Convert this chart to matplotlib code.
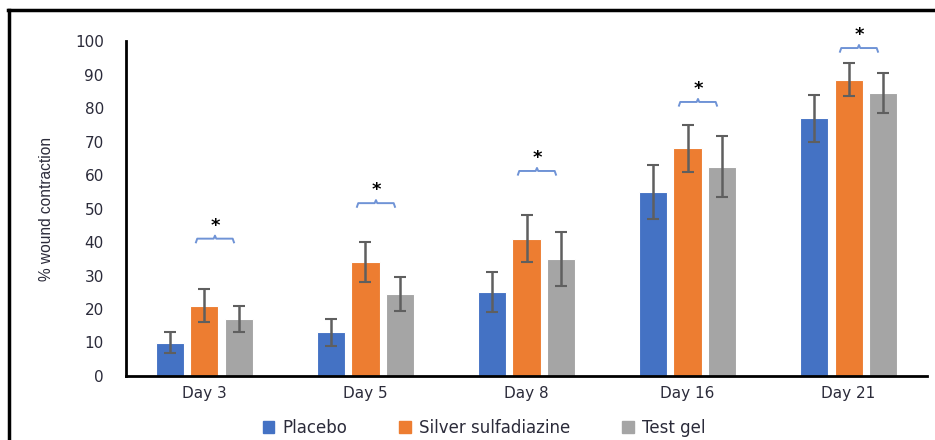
import matplotlib
matplotlib.use("Agg")
import matplotlib.pyplot as plt
import numpy as np
from matplotlib.lines import Line2D

days = ["Day 3", "Day 5", "Day 8", "Day 16", "Day 21"]
series_names = ["Placebo", "Silver sulfadiazine", "Test gel"]
placebo = [10, 13, 25, 55, 77]
placebo_err = [3, 4, 6, 8, 7]
ssd = [21, 34, 41, 68, 88.5]
ssd_err = [5, 6, 7, 7, 5]
testgel = [17, 24.5, 35, 62.5, 84.5]
testgel_err = [4, 5, 8, 9, 6]
bracket_levels = [41, 51.6, 61.2, 81.8, 97.9]
star_label = "*"

colors = ["#4472C4", "#ED7D31", "#A5A5A5"]

fig = plt.figure(figsize=(9.35, 4.4), dpi=100)
ax = fig.add_axes([126/935, 1-376/440, (927-126)/935, (376-41)/440])

x = np.arange(len(days))
off = 0.217
w = 0.174
vals = [placebo, ssd, testgel]
errs = [placebo_err, ssd_err, testgel_err]
for i, (v, e, c, n) in enumerate(zip(vals, errs, colors, series_names)):
    ax.bar(x + (i-1)*off, v, width=w, color=c, edgecolor="white", linewidth=0.8,
           label=n, zorder=2)
    ax.errorbar(x + (i-1)*off, v, yerr=e, fmt="none", ecolor="#5F5F5F",
                elinewidth=1.8, capsize=4, capthick=1.5, zorder=3)

# brackets and stars
for xi, lev in zip(x, bracket_levels):
    x0 = xi - 0.053
    x1 = xi + 0.183
    xm = (x0 + x1) / 2
    px = [x0, x0 + 0.008, xm - 0.008, xm, xm + 0.008, x1 - 0.008, x1]
    py = [lev - 1.1, lev, lev, lev + 0.9, lev, lev, lev - 1.1]
    ax.plot(px, py, color="#6F93D6", lw=1.4, clip_on=False, zorder=4)
    ax.text(xm, lev + 3.8, star_label, ha="center", va="center", fontsize=13,
            fontweight="bold", color="black", clip_on=False)

ax.set_xlim(-0.4875, 4.4875)
ax.set_ylim(0, 100)
ax.set_yticks(np.arange(0, 101, 10))
ax.set_xticks(x)
ax.set_xticklabels(days)
ax.tick_params(axis="both", length=0, labelsize=11, labelcolor="#2b2b3a")
ax.tick_params(axis="y", pad=16)
ax.tick_params(axis="x", pad=7)
for s in ["top", "right"]:
    ax.spines[s].set_visible(False)
ax.spines["left"].set_linewidth(2)
ax.spines["bottom"].set_linewidth(2)
ax.set_ylabel("% wound contraction", fontsize=11.2,
              family=["Liberation Sans", "DejaVu Sans"], color="#2b2b3a",
              labelpad=15)

handles = [plt.Rectangle((0, 0), 1, 1, color=c) for c in colors]
fig.legend(handles, series_names, loc="center", bbox_to_anchor=(484/935, 1-428/440),
           ncol=3, frameon=False, fontsize=12, handlelength=0.7, handleheight=0.7,
           columnspacing=3.1, handletextpad=0.5, labelcolor="#2b2b3a")

# outer frame (left and top)
fig.add_artist(Line2D([9/935, 9/935], [0, 1-10/440], color="black", lw=2.5,
                      transform=fig.transFigure))
fig.add_artist(Line2D([8/935, 1], [1-10/440, 1-10/440], color="black", lw=2.5,
                      transform=fig.transFigure))

fig.savefig("out.png", dpi=100)
